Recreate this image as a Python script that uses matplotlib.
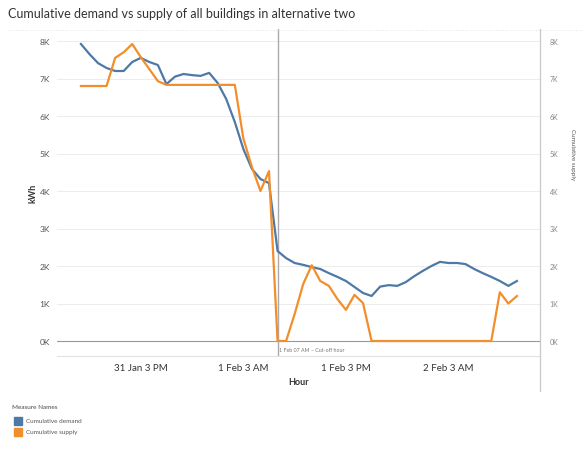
import matplotlib
matplotlib.use("Agg")
import matplotlib.pyplot as plt
from matplotlib.lines import Line2D
from matplotlib.patches import Rectangle
import pandas as pd

plt.rcParams['font.family'] = ['Lato', 'DejaVu Sans']

# Hourly cumulative values (kWh, thousands)
demand_k = [7.92, 7.65, 7.41, 7.28, 7.20, 7.20, 7.44, 7.55, 7.44, 7.36,
            6.85, 7.05, 7.12, 7.09, 7.07, 7.15, 6.88, 6.45, 5.84, 5.12,
            4.59, 4.32, 4.21, 2.40, 2.21, 2.08, 2.03, 1.97, 1.92, 1.81,
            1.71, 1.60, 1.44, 1.28, 1.20, 1.45, 1.49, 1.47, 1.57, 1.73,
            1.87, 2.00, 2.11, 2.08, 2.08, 2.05, 1.92, 1.81, 1.71, 1.60,
            1.47, 1.60]
supply_k = [6.80, 6.80, 6.80, 6.80, 7.55, 7.70, 7.92, 7.57, 7.25, 6.93,
            6.83, 6.83, 6.83, 6.83, 6.83, 6.83, 6.83, 6.83, 6.83, 5.40,
            4.64, 4.00, 4.53, 0.00, 0.00, 0.72, 1.52, 2.02, 1.60, 1.47,
            1.12, 0.83, 1.23, 1.01, 0.00, 0.00, 0.00, 0.00, 0.00, 0.00,
            0.00, 0.00, 0.00, 0.00, 0.00, 0.00, 0.00, 0.00, 0.00, 1.30,
            1.00, 1.20]
hours = pd.date_range('2021-01-31 08:00', periods=len(demand_k), freq='h')
tick_times = pd.to_datetime(['2021-01-31 15:00', '2021-02-01 03:00',
                             '2021-02-01 15:00', '2021-02-02 03:00'])
tick_labels = ['31 Jan 3 PM', '1 Feb 3 AM', '1 Feb 3 PM', '2 Feb 3 AM']
y_ticks = [0, 1, 2, 3, 4, 5, 6, 7, 8]
y_labels = ['0K', '1K', '2K', '3K', '4K', '5K', '6K', '7K', '8K']
cutoff = pd.Timestamp('2021-02-01 07:00')

BLUE = '#4E79A7'
ORANGE = '#F28E2B'
TXT = '#555555'

W, H = 583, 460
fig = plt.figure(figsize=(W / 100, H / 100), dpi=100)

def fx(px):
    return px / W

def fy(py):
    return 1 - py / H

L, R, T, B = 57, 540, 30, 357
ax = fig.add_axes([fx(L), fy(B), fx(R - L), (B - T) / H])
ax2 = ax.twinx()

step = pd.Timedelta(hours=1)
x_left = hours[0] - step * 2.8
x_right = hours[-1] + step * 2.7
ylo, yhi = -0.4, 8.32

ax.plot(hours, demand_k, color=BLUE, lw=1.6, zorder=3)
ax2.plot(hours, supply_k, color=ORANGE, lw=1.6, zorder=3)

for a in (ax, ax2):
    a.set_xlim(x_left, x_right)
    a.set_ylim(ylo, yhi)
    for s in a.spines.values():
        s.set_visible(False)

ax.set_yticks(y_ticks)
ax.set_yticklabels(y_labels)
ax2.set_yticks(y_ticks)
ax2.set_yticklabels(y_labels)
ax.tick_params(axis='y', length=0, labelsize=6, labelcolor=TXT, pad=5)
ax2.tick_params(axis='y', length=0, labelsize=5, labelcolor='#888888', pad=7)

ax.set_xticks(tick_times)
ax.set_xticklabels(tick_labels)
ax.tick_params(axis='x', length=0, labelsize=7, labelcolor='#333333', pad=5)

for v in y_ticks:
    ax.axhline(v, color='#999999' if v == 0 else '#ececec', lw=0.8 if v == 0 else 0.7, zorder=1)

ax.axvline(cutoff, color='#aaaaaa', lw=1.0, zorder=2)
ax.text(cutoff + step * 0.2, -0.22, '1 Feb 07 AM \u2013 Cut-off hour', fontsize=3.8,
        color='#777777', va='center', ha='left')

ax.set_ylabel('kWh', fontsize=6.5, color='#333333', fontweight='bold')
ax.yaxis.set_label_coords((37 - L) / (R - L), 0.5)
ax.set_xlabel('Hour', fontsize=6.5, color='#333333', fontweight='bold')
ax.xaxis.set_label_coords(0.5, (B - 378) / (B - T))
ax2.set_ylabel('Cumulative supply', fontsize=4.5, color='#555555', rotation=270)
ax2.yaxis.set_label_coords((575 - L) / (R - L), 0.62)

# frame lines
fig.add_artist(Line2D([fx(L), fx(R)], [fy(B), fy(B)], color='#e2e2e2', lw=0.8))
fig.add_artist(Line2D([fx(R), fx(R)], [fy(T), fy(392)], color='#c8c8c8', lw=0.9))
fig.add_artist(Line2D([fx(8), fx(583)], [fy(31), fy(31)], color='#dddddd', lw=0.6,
                      linestyle=(0, (1, 2))))

fig.text(fx(8), fy(14), 'Cumulative demand vs supply of all buildings in alternative two',
         fontsize=9, color='#333333', va='center', ha='left')

# legend
fig.text(fx(12), fy(408), 'Measure Names', fontsize=4.6, color='#444444', va='center')
for i, (c, lab) in enumerate([(BLUE, 'Cumulative demand'), (ORANGE, 'Cumulative supply')]):
    yc = 422 + i * 11
    fig.add_artist(Rectangle((fx(14), fy(yc + 4)), 8 / W, 8 / H, color=c,
                             transform=fig.transFigure))
    fig.text(fx(26), fy(yc), lab, fontsize=4.6, color='#555555', va='center')

fig.savefig('out.png', dpi=100)
